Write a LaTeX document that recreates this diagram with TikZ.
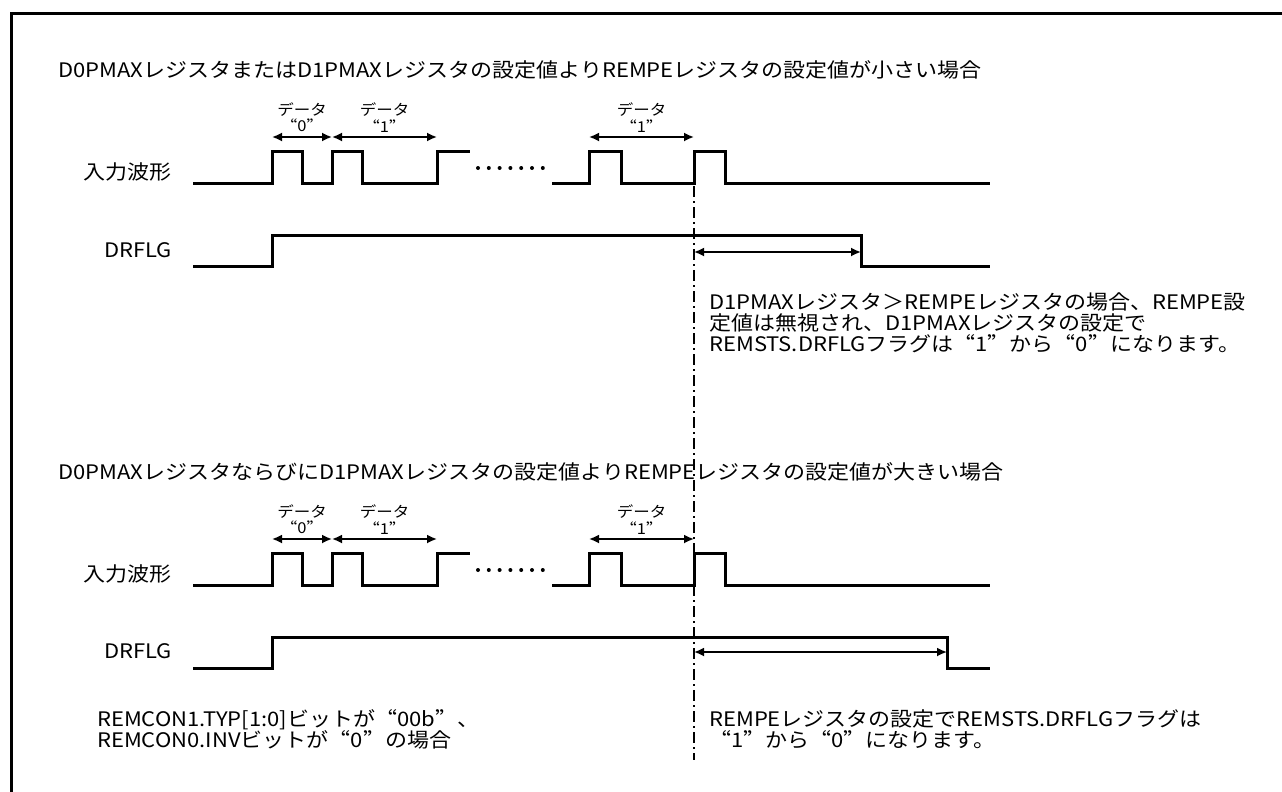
\documentclass[tikz,border=0pt]{standalone}
\usepackage{fontspec}
\setmainfont{Noto Sans CJK JP}[FakeStretch=1.1]
\newfontfamily\fwfont{Noto Sans CJK JP}[FakeStretch=1.1, RawFeature=+fwid]
\newcommand\qt[1]{{\fwfont “}#1{\fwfont ”}}
\usetikzlibrary{arrows.meta}

\begin{document}
\begin{tikzpicture}[x=1pt, y=-1pt, >={Latex[length=10pt,width=9pt]},
    wave/.style={line width=3pt},
    datarrow/.style={<->, line width=1.8pt},
    lbl/.style={font=\fontsize{20}{21}\selectfont, inner sep=0pt, align=left},
    small/.style={font=\fontsize{15}{16.5}\selectfont, inner sep=0pt, align=center}]
    \useasboundingbox (0,0) rectangle (1282,792);
    % frame, cut at right and bottom
    \draw[line width=3pt] (11,792) -- (11,14) -- (1282,14);

    % case 1: REMPE smaller
    \node[lbl, anchor=west] (title1) at (58,70) {D0PMAXレジスタまたはD1PMAXレジスタの設定値よりREMPEレジスタの設定値が小さい場合};
    \node[lbl, anchor=east] (in1) at (172,172) {入力波形};
    \node[lbl, anchor=east] (flg1) at (172,250) {DRFLG};

    \draw[wave] (193,183) -| (272,151) -| (302,183) -| (332,151) -| (362,183) -| (437,151) -- (470,151);
    \draw[line width=4pt, line cap=round, dash pattern=on 0pt off 10.8pt] (478,168) -- (545,168);
    \draw[wave] (552,183) -| (589,151) -| (621,183) -| (694,151) -| (725,183) -- (990,183);
    \draw[wave] (193,266) -| (272,235) -| (861,266) -- (990,266);

    \coordinate (a0) at (272,137);
    \coordinate (a1) at (332,137);
    \coordinate (a2) at (437,137);
    \coordinate (a3) at (589,137);
    \coordinate (a4) at (694,137);
    \draw[datarrow] (a0) -- node[small, above=4pt] (d0) {データ\\\qt{0}} (a1);
    \draw[datarrow] (a1) -- node[small, above=4pt] (d1) {データ\\\qt{1}} (a2);
    \draw[datarrow] (a3) -- node[small, above=4pt] (d2) {データ\\\qt{1}} (a4);

    \coordinate (f0) at (694,252);
    \coordinate (f1) at (861,252);
    \draw[datarrow] (f0) -- (f1);
    \node[lbl, anchor=west] (note1) at (709,323) {D1PMAXレジスタ＞REMPEレジスタの場合、REMPE設\\定値は無視され、D1PMAXレジスタの設定で\\REMSTS.DRFLGフラグは\qt{1}から\qt{0}になります。};

    % case 2: REMPE larger
    \node[lbl, anchor=west] (title2) at (58,472) {D0PMAXレジスタならびにD1PMAXレジスタの設定値よりREMPEレジスタの設定値が大きい場合};
    \node[lbl, anchor=east] (in2) at (172,574) {入力波形};
    \node[lbl, anchor=east] (flg2) at (172,651) {DRFLG};

    \draw[wave] (193,585) -| (272,553) -| (302,585) -| (332,553) -| (362,585) -| (437,553) -- (470,553);
    \draw[line width=4pt, line cap=round, dash pattern=on 0pt off 10.8pt] (478,570) -- (545,570);
    \draw[wave] (552,585) -| (589,553) -| (621,585) -| (694,553) -| (725,585) -- (990,585);
    \draw[wave] (193,668) -| (272,637) -| (947,668) -- (990,668);

    \coordinate (b0) at (272,539);
    \coordinate (b1) at (332,539);
    \coordinate (b2) at (437,539);
    \coordinate (b3) at (589,539);
    \coordinate (b4) at (694,539);
    \draw[datarrow] (b0) -- node[small, above=4pt] (e0) {データ\\\qt{0}} (b1);
    \draw[datarrow] (b1) -- node[small, above=4pt] (e1) {データ\\\qt{1}} (b2);
    \draw[datarrow] (b3) -- node[small, above=4pt] (e2) {データ\\\qt{1}} (b4);

    \coordinate (g0) at (694,652);
    \coordinate (g1) at (947,652);
    \draw[datarrow] (g0) -- (g1);
    \node[lbl, anchor=west] (cond) at (97,729) {REMCON1.TYP[1:0]ビットが\qt{00b}、\\REMCON0.INVビットが\qt{0}の場合};
    \node[lbl, anchor=west] (note2) at (709,729) {REMPEレジスタの設定でREMSTS.DRFLGフラグは\\\qt{1}から\qt{0}になります。};

    % timing reference line
    \coordinate (m0) at (694,186);
    \coordinate (m1) at (694,760);
    \draw[line width=2.8pt, dash pattern=on 11pt off 4pt on 2pt off 4pt] (m0) -- (m1);
\end{tikzpicture}
\end{document}
